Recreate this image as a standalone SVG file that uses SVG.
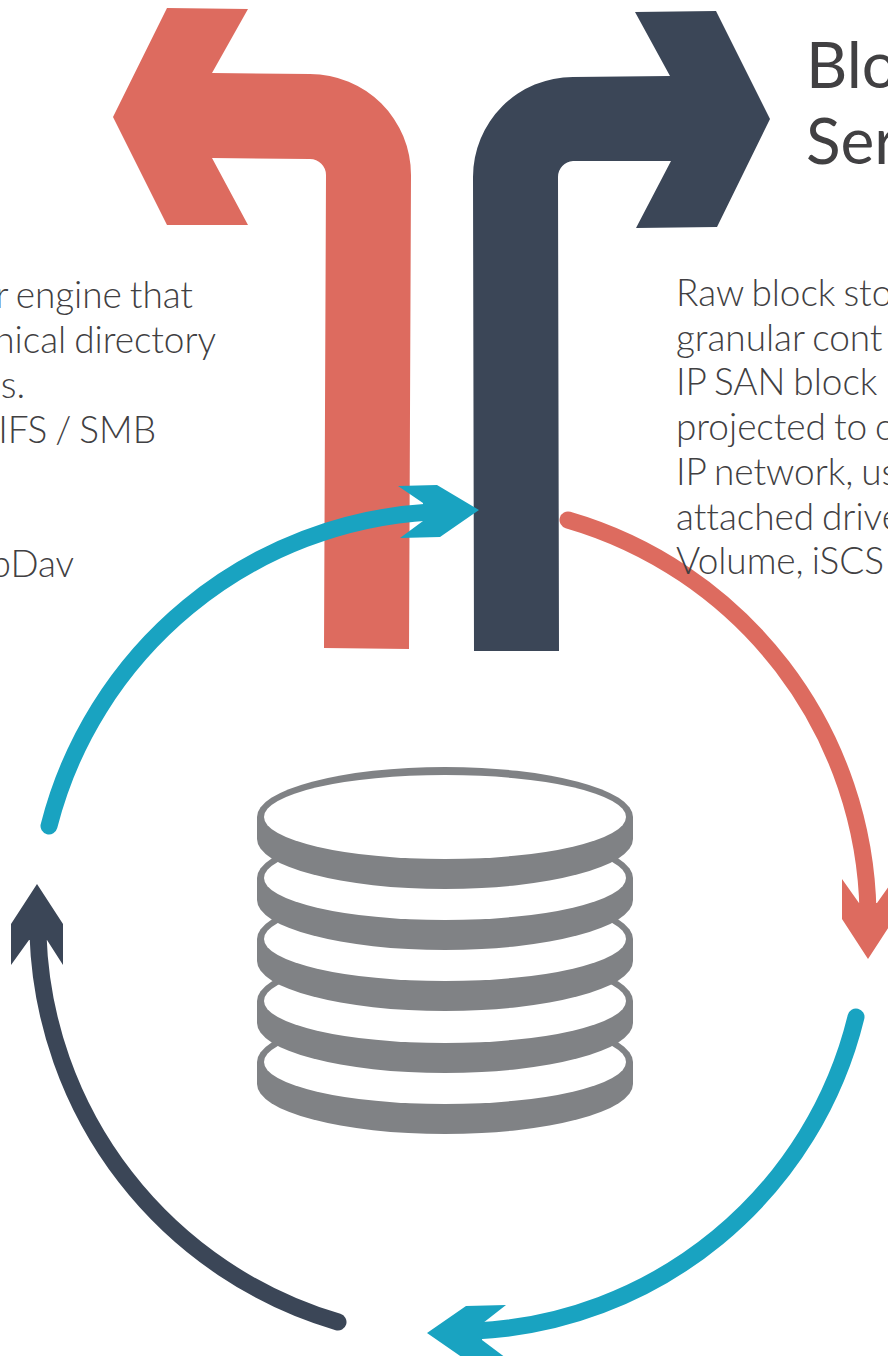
<svg xmlns="http://www.w3.org/2000/svg" width="888" height="1356" viewBox="0 0 888 1356">
<style>
.t{font-family:Lato,"Open Sans",sans-serif;font-weight:300;font-size:37px;letter-spacing:-0.05px;word-spacing:-2px;fill:#414042}
.h{font-family:Lato,"Open Sans",sans-serif;font-weight:400;font-size:64px;fill:#414042}
.e{text-anchor:end}
.a{fill:none;stroke-width:17;stroke-linecap:round}
.disk{fill:#808285}
.in{fill:#fff}
</style>
<defs>
<g id="d"><path class="disk" d="M257 817A188 50 0 0 1 633 817V839A188 50 0 0 1 257 839Z"/><ellipse class="in" cx="445" cy="817" rx="181" ry="42"/></g>
</defs>
<rect width="888" height="1356" fill="#fff"/>
<g id="file-arrow"><path fill="#dd6b5f" d="M113 117L167 8L248 9L212 73L310 74A101 101 0 0 1 411 175L409 649L324 648L326 175A16 16 0 0 0 310 159L212 158L248 225L167 225Z"/></g>
<g id="block-arrow"><path fill="#3b4657" d="M770 119L716 11L635 12L670 76L573 77A100 100 0 0 0 473 177L474 651L559 651L558 177A16 16 0 0 1 573 161L671 161L636 228L717 227Z"/></g>
<g id="database">
<use href="#d" y="245"/><use href="#d" y="184"/><use href="#d" y="122"/><use href="#d" y="61"/><use href="#d"/>
</g>
<g id="connectors">
<path class="a" stroke="#dd6b5f" d="M568 520A416 416 0 0 1 868 912"/>
<path fill="#dd6b5f" d="M868 959L842 919L842 879L859 903L877 903L894 879L894 919Z"/>
<path class="a" stroke="#19a3c1" d="M856 1017A412 412 0 0 1 475 1331"/>
<path fill="#19a3c1" d="M427 1333L466 1306L506 1305L483 1323L482 1340L506 1358L466 1360Z"/>
<path class="a" stroke="#3b4657" d="M338 1322A418 418 0 0 1 38 935"/>
<path fill="#3b4657" d="M37 884L63 924L63 965L47 940L29 940L11 965L11 924Z"/>
<path class="a" stroke="#19a3c1" d="M49 826A418 418 0 0 1 430 512"/>
<path fill="#19a3c1" d="M479 510L437 485L398 486L423 503L423 521L400 538L440 537Z"/>
</g>
<g id="file-text">
<text class="t e" x="193" y="308">r engine that</text>
<text class="t e" x="216" y="353">nical directory</text>
<text class="t e" x="25" y="398">es.</text>
<text class="t e" x="156" y="443">IFS / SMB</text>
<text class="t e" x="74" y="577">bDav</text>
</g>
<g id="block-text">
<text class="h" x="806" y="88">Blo</text>
<text class="h" x="806" y="164">Ser</text>
<text class="t" x="676" y="306">Raw block sto</text>
<text class="t" x="676" y="351">granular cont</text>
<text class="t" x="676" y="395">IP SAN block</text>
<text class="t" x="676" y="440">projected to c</text>
<text class="t" x="676" y="485">IP network, us</text>
<text class="t" x="676" y="530">attached drive</text>
<text class="t" x="676" y="574">Volume, iSCS</text>
</g>
</svg>
